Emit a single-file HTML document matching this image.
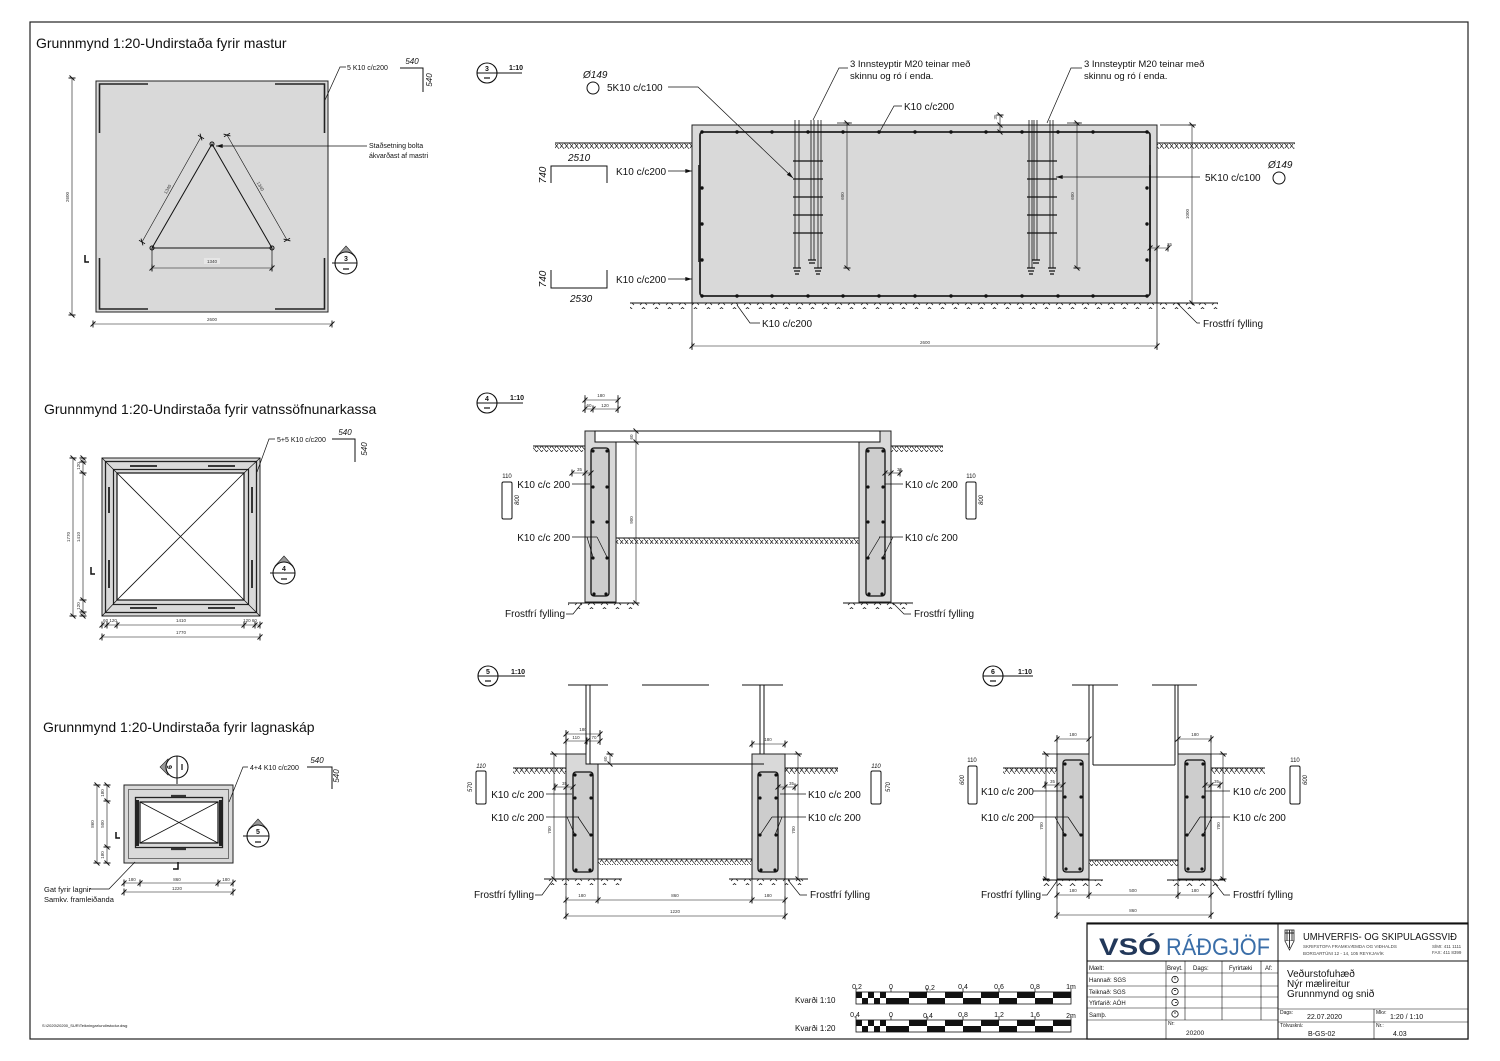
<!DOCTYPE html>
<html><head><meta charset="utf-8"><style>
html,body{margin:0;padding:0;background:#fff}
svg{display:block}
text{font-family:"Liberation Sans",Arial,sans-serif;fill:#111}
.l{stroke:#111;stroke-width:1;fill:none}
.t{stroke:#111;stroke-width:0.7;fill:none}
.d{stroke:#111;stroke-width:0.6;fill:none;marker-start:url(#tk);marker-mid:url(#tk);marker-end:url(#tk)}
.c{fill:#d9d9d9;stroke:#222;stroke-width:1}
.r{fill:#cdcdcd;stroke:#111;stroke-width:1.3}
.s{font-size:4.5px;fill:#333}
.m{font-size:10px}
</style></head><body>
<svg width="1500" height="1061" viewBox="0 0 1500 1061" xmlns="http://www.w3.org/2000/svg">
<defs>
<pattern id="gh" x="0" y="0" width="10" height="6" patternUnits="userSpaceOnUse"><path d="M0,0 L5,6 M5,0 L10,6 M8,0 L5,4 M3,0 L0,4" stroke="#222" stroke-width="0.7" fill="none"/></pattern>
<pattern id="gb" x="0" y="0" width="13" height="6" patternUnits="userSpaceOnUse"><path d="M3,5 L6.5,1.5 L10,5" stroke="#222" stroke-width="0.8" fill="none"/></pattern>
<marker id="ar" viewBox="0 0 10 6" refX="10" refY="3" markerWidth="8" markerHeight="4" orient="auto" markerUnits="userSpaceOnUse"><path d="M0,0 L10,3 L0,6z" fill="#111"/></marker>
<marker id="tk" viewBox="-5 -5 10 10" markerWidth="10" markerHeight="10" markerUnits="userSpaceOnUse" orient="auto"><path d="M-2.5,2.5 L2.5,-2.5 M0,-3.5 V3.5" stroke="#111" stroke-width="0.9" fill="none"/></marker>
</defs>
<rect width="1500" height="1061" fill="#fff"/>
<rect x="30" y="22" width="1438" height="1017" fill="none" stroke="#222" stroke-width="1.2"/>

<!-- ================= PLAN 1 ================= -->
<text x="36" y="48" font-size="14">Grunnmynd 1:20-Undirstaða fyrir mastur</text>
<rect x="96" y="81" width="232" height="231" class="c"/>
<path d="M148,84 H99.5 V133 M275,84 H324.5 V133 M99.5,258 V309 H148 M324.5,258 V309 H275" fill="none" stroke="#222" stroke-width="1.6"/>
<path d="M212,144 L152,248 L272,248 Z" class="l"/>
<circle cx="212" cy="144" r="2" fill="none" stroke="#111"/>
<circle cx="152" cy="248" r="2" fill="none" stroke="#111"/>
<circle cx="272" cy="248" r="2" fill="none" stroke="#111"/>
<path d="M142,242 L201,137" class="d"/>
<path d="M227,135 L287,240" class="d"/>
<text x="0" y="0" class="s" text-anchor="middle" transform="translate(169,190) rotate(-60.5)">1340</text>
<text x="0" y="0" class="s" text-anchor="middle" transform="translate(259,187) rotate(60.5)">1340</text>
<path d="M152,248 V271 M272,248 V271" class="t"/>
<path d="M152,268 H272" class="d"/>
<rect x="204" y="258" width="16" height="6" fill="#e6e6e6"/>
<text x="212" y="263" class="s" text-anchor="middle">1340</text>
<path d="M72,78 V315" class="d"/>
<text x="0" y="0" class="s" text-anchor="middle" transform="translate(69,197) rotate(-90)">2600</text>
<path d="M93,324 H332" class="d"/>
<text x="212" y="321" class="s" text-anchor="middle">2600</text>
<path d="M325,100 L340,67 H346" class="t"/>
<text x="347" y="70" font-size="7">5 K10 c/c200</text>
<path d="M400,68 H423 V92" class="l"/>
<text x="412" y="64" font-size="8" font-style="italic" text-anchor="middle">540</text>
<text x="0" y="0" font-size="8" font-style="italic" text-anchor="middle" transform="translate(432,80) rotate(-90)">540</text>
<text x="369" y="148" font-size="7">Staðsetning bolta</text>
<text x="369" y="158" font-size="7">ákvarðast af mastri</text>
<path d="M367,146 H216" class="t" marker-end="url(#ar)"/>
<path d="M337,256 L346,246 L355,256 Z" fill="#999" stroke="#222" stroke-width="0.6"/>
<circle cx="346" cy="263" r="11" fill="#fff" stroke="#111" stroke-width="1.1"/>
<path d="M332,263 H357" class="l"/>
<text x="346" y="261" font-size="7" font-weight="bold" text-anchor="middle">3</text>
<path d="M343,269 H349" stroke="#111" stroke-width="1.2"/>
<path d="M85,255 V262 H89" fill="none" stroke="#111" stroke-width="1.5"/>

<!-- ================= SECTION 3 ================= -->
<circle cx="487" cy="73" r="10" fill="#fff" stroke="#111" stroke-width="1.1"/>
<path d="M477,73 H522" class="l"/>
<text x="487" y="71" font-size="7" font-weight="bold" text-anchor="middle">3</text>
<path d="M484,78 H490" stroke="#111" stroke-width="1.2"/>
<text x="509" y="70" font-size="7" font-weight="bold">1:10</text>

<text x="583" y="78" font-size="10" font-style="italic">Ø149</text>
<circle cx="593" cy="88" r="6" fill="none" stroke="#111"/>
<text x="607" y="91" class="m">5K10 c/c100</text>

<path d="M555,143 H692 M1157,143 H1295" class="l"/>
<rect x="555" y="143" width="137" height="6" fill="url(#gh)"/>
<rect x="1157" y="143" width="138" height="6" fill="url(#gh)"/>
<rect x="692" y="125" width="465" height="178" class="c"/>
<rect x="700" y="132" width="450" height="164" rx="3" fill="none" stroke="#222" stroke-width="1.8"/>
<g fill="#111">
<circle cx="702" cy="132" r="1.7"/><circle cx="737" cy="132" r="1.7"/><circle cx="772" cy="132" r="1.7"/><circle cx="808" cy="132" r="1.7"/><circle cx="843" cy="132" r="1.7"/><circle cx="879" cy="132" r="1.7"/><circle cx="915" cy="132" r="1.7"/><circle cx="951" cy="132" r="1.7"/><circle cx="986" cy="132" r="1.7"/><circle cx="1022" cy="132" r="1.7"/><circle cx="1058" cy="132" r="1.7"/><circle cx="1093" cy="132" r="1.7"/><circle cx="1147" cy="132" r="1.7"/>
<circle cx="702" cy="296" r="1.7"/><circle cx="737" cy="296" r="1.7"/><circle cx="772" cy="296" r="1.7"/><circle cx="808" cy="296" r="1.7"/><circle cx="843" cy="296" r="1.7"/><circle cx="879" cy="296" r="1.7"/><circle cx="915" cy="296" r="1.7"/><circle cx="951" cy="296" r="1.7"/><circle cx="986" cy="296" r="1.7"/><circle cx="1022" cy="296" r="1.7"/><circle cx="1058" cy="296" r="1.7"/><circle cx="1093" cy="296" r="1.7"/><circle cx="1147" cy="296" r="1.7"/>
<circle cx="702" cy="188" r="1.7"/><circle cx="702" cy="224" r="1.7"/><circle cx="702" cy="260" r="1.7"/>
<circle cx="1147" cy="188" r="1.7"/><circle cx="1147" cy="224" r="1.7"/><circle cx="1147" cy="260" r="1.7"/>
</g>
<path d="M699,165 V262 M1150,165 V262" stroke="#222" stroke-width="1.6"/>
<path d="M630,303 H1218" class="l"/>
<rect x="630" y="303" width="588" height="6" fill="url(#gb)"/>

<!-- bolts left -->
<path d="M795,120 V268 M799,120 V268 M811,120 V260 M814,120 V260 M818,120 V268 M821,120 V268" stroke="#111" stroke-width="0.8"/>
<path d="M793,161 H823 M793,179 H823 M793,197 H823 M793,215 H823 M793,233 H823" stroke="#111" stroke-width="1.2"/>
<path d="M793,268 H801 M794,271 H800 M795,274 H799 M814,268 H822 M815,271 H821 M816,274 H820 M808,260 H816 M809,263 H815" stroke="#111" stroke-width="1.2"/>
<!-- bolts right -->
<path d="M1029,120 V268 M1032,120 V268 M1034,120 V260 M1037,120 V260 M1050,120 V268 M1053,120 V268" stroke="#111" stroke-width="0.8"/>
<path d="M1027,161 H1057 M1027,179 H1057 M1027,197 H1057 M1027,215 H1057 M1027,233 H1057" stroke="#111" stroke-width="1.2"/>
<path d="M1027,268 H1035 M1028,271 H1034 M1029,274 H1033 M1048,268 H1056 M1049,271 H1055 M1050,274 H1054 M1032,260 H1040 M1033,263 H1039" stroke="#111" stroke-width="1.2"/>

<path d="M668,87 H698 L793,178" class="t" marker-end="url(#ar)"/>

<path d="M847,123 V268" class="d"/><path d="M837,123 H852" class="t"/>
<text x="0" y="0" class="s" text-anchor="middle" transform="translate(844,196) rotate(-90)">600</text>
<path d="M1077,123 V268" class="d"/><path d="M1067,123 H1082" class="t"/>
<text x="0" y="0" class="s" text-anchor="middle" transform="translate(1074,196) rotate(-90)">600</text>
<path d="M1000,115 V125 V132" class="d"/>
<text x="0" y="0" class="s" text-anchor="middle" transform="translate(997,117) rotate(-90)">35</text>
<path d="M1160,125 H1196 M1157,303 H1196" class="t"/>
<path d="M1192,125 V303" class="d"/>
<text x="0" y="0" class="s" text-anchor="middle" transform="translate(1189,214) rotate(-90)">1000</text>
<path d="M1150,248 H1157 H1168" class="d"/>
<text x="1167" y="246" class="s">35</text>

<text x="1205" y="181" class="m">5K10 c/c100</text>
<path d="M1200,177 H1056" class="t" marker-end="url(#ar)"/>
<text x="1268" y="168" font-size="10" font-style="italic">Ø149</text>
<circle cx="1279" cy="178" r="6" fill="none" stroke="#111"/>

<text x="904" y="110" class="m">K10 c/c200</text>
<path d="M902,106 H894 L879,133" class="t"/>
<text x="850" y="67" font-size="9.5">3 Innsteyptir M20 teinar með</text>
<text x="850" y="79" font-size="9.5">skinnu og ró í enda.</text>
<path d="M848,68 H839 L813,120" class="t"/>
<text x="1084" y="67" font-size="9.5">3 Innsteyptir M20 teinar með</text>
<text x="1084" y="79" font-size="9.5">skinnu og ró í enda.</text>
<path d="M1082,68 H1071 L1047,123" class="t"/>

<text x="616" y="175" class="m">K10 c/c200</text>
<path d="M668,171 H692" class="t" marker-end="url(#ar)"/>
<text x="616" y="283" class="m">K10 c/c200</text>
<path d="M668,279 H692" class="t" marker-end="url(#ar)"/>

<text x="568" y="161" font-size="10" font-style="italic">2510</text>
<path d="M551,183 V166 H607 V183" class="l"/>
<text x="0" y="0" font-size="10" font-style="italic" text-anchor="middle" transform="translate(546,175) rotate(-90)">740</text>
<path d="M551,270 V288 H607 V270" class="l"/>
<text x="0" y="0" font-size="10" font-style="italic" text-anchor="middle" transform="translate(546,279) rotate(-90)">740</text>
<text x="570" y="302" font-size="10" font-style="italic">2530</text>

<path d="M692,303 V350 M1157,303 V350" class="t"/>
<path d="M692,346 H1157" class="d"/>
<text x="925" y="344" class="s" text-anchor="middle">2600</text>
<text x="762" y="327" class="m">K10 c/c200</text>
<path d="M760,323 H750 L737,305" class="t"/>
<text x="1203" y="327" class="m">Frostfrí fylling</text>
<path d="M1200,323 H1197 L1177,303" class="t"/>

<!-- ================= PLAN 2 ================= -->
<text x="44" y="414" font-size="14">Grunnmynd 1:20-Undirstaða fyrir vatnssöfnunarkassa</text>
<rect x="102" y="458" width="158" height="158" class="c"/>
<rect x="105.5" y="461.5" width="151" height="151" fill="none" stroke="#222" stroke-width="1.3"/>
<rect x="113.5" y="469.5" width="135" height="135" fill="none" stroke="#222" stroke-width="1.2"/>
<rect x="117" y="473" width="127" height="127" fill="#fff" stroke="#111" stroke-width="1.2"/>
<path d="M102,458 L117,473 M260,458 L244,473 M102,616 L117,600 M260,616 L244,600" class="t"/>
<path d="M117,473 L244,600 M244,473 L117,600" stroke="#111" stroke-width="0.8"/>
<path d="M130,466 H157 M208,466 H235 M130,608 H157 M208,608 H235 M109,487 V513 M109,560 V588 M252,487 V513 M252,560 V588" stroke="#222" stroke-width="1.8"/>
<path d="M73,458 V616" class="d"/>
<text x="0" y="0" class="s" text-anchor="middle" transform="translate(70,537) rotate(-90)">1770</text>
<path d="M83,458 V462 V473 V600 V612 V616" class="d"/>
<text x="0" y="0" class="s" text-anchor="middle" transform="translate(80,537) rotate(-90)">1410</text>
<text x="0" y="0" class="s" text-anchor="middle" transform="translate(80,466) rotate(-90)">120</text>
<text x="0" y="0" class="s" text-anchor="middle" transform="translate(80,606) rotate(-90)">120</text>
<path d="M102,625 H107 H117 H244 H255 H260" class="d"/>
<text x="110" y="622" class="s" text-anchor="middle">60 120</text>
<text x="181" y="622" class="s" text-anchor="middle">1410</text>
<text x="250" y="622" class="s" text-anchor="middle">120 60</text>
<path d="M102,637 H260" class="d"/>
<text x="181" y="634" class="s" text-anchor="middle">1770</text>
<path d="M275,439 H269 L257,472" class="t"/>
<text x="277" y="442" font-size="7">5+5 K10 c/c200</text>
<path d="M332,439 H355 V462" class="l"/>
<text x="345" y="435" font-size="8" font-style="italic" text-anchor="middle">540</text>
<text x="0" y="0" font-size="8" font-style="italic" text-anchor="middle" transform="translate(367,449) rotate(-90)">540</text>
<path d="M275,566 L284,556 L293,566 Z" fill="#999" stroke="#222" stroke-width="0.6"/>
<circle cx="284" cy="573" r="11" fill="#fff" stroke="#111" stroke-width="1.1"/>
<path d="M270,573 H295" class="l"/>
<text x="284" y="571" font-size="7" font-weight="bold" text-anchor="middle">4</text>
<path d="M281,579 H287" stroke="#111" stroke-width="1.2"/>
<path d="M91,567 V574 H95" fill="none" stroke="#111" stroke-width="1.5"/>

<!-- ================= PLAN 3 ================= -->
<text x="43" y="732" font-size="14">Grunnmynd 1:20-Undirstaða fyrir lagnaskáp</text>
<rect x="124" y="785" width="109" height="78" class="c"/>
<rect x="128.5" y="789.5" width="100" height="69" fill="none" stroke="#444" stroke-width="0.7"/>
<rect x="135.5" y="797.5" width="87" height="50" fill="#d9d9d9" stroke="#222" stroke-width="1.3"/>
<rect x="140" y="802" width="78" height="41" fill="#fff" stroke="#111" stroke-width="1.2"/>
<path d="M140,802 L218,843 M218,802 L140,843" stroke="#111" stroke-width="0.8"/>
<path d="M137.5,800 V846 M220.5,800 V846" stroke="#222" stroke-width="3"/>
<path d="M171,796 H186 M171,849 H186" stroke="#333" stroke-width="2.2"/>
<path d="M177,778 V784" class="l"/>
<path d="M168,759 L160,767 L168,775 Z" fill="#999" stroke="#222" stroke-width="0.6"/>
<circle cx="177" cy="767" r="11" fill="#fff" stroke="#111" stroke-width="1.1"/>
<path d="M177,756 V778" class="l"/>
<text x="0" y="0" font-size="7" font-weight="bold" text-anchor="middle" transform="translate(172,767) rotate(-90)">6</text>
<path d="M182,764 V770" stroke="#111" stroke-width="1.2"/>
<path d="M249,829 L258,819 L267,829 Z" fill="#999" stroke="#222" stroke-width="0.6"/>
<circle cx="258" cy="836" r="11" fill="#fff" stroke="#111" stroke-width="1.1"/>
<path d="M243,836 H269" class="l"/>
<text x="258" y="834" font-size="7" font-weight="bold" text-anchor="middle">5</text>
<path d="M255,842 H261" stroke="#111" stroke-width="1.2"/>
<path d="M116,832 V838 H120" fill="none" stroke="#111" stroke-width="1.5"/>
<path d="M178,862 V869 H173" fill="none" stroke="#111" stroke-width="1.5"/>
<path d="M97,785 V863" class="d"/>
<text x="0" y="0" class="s" text-anchor="middle" transform="translate(94,824) rotate(-90)">860</text>
<path d="M107,785 V801 V847 V863" class="d"/>
<text x="0" y="0" class="s" text-anchor="middle" transform="translate(104,793) rotate(-90)">180</text>
<text x="0" y="0" class="s" text-anchor="middle" transform="translate(104,824) rotate(-90)">500</text>
<text x="0" y="0" class="s" text-anchor="middle" transform="translate(104,855) rotate(-90)">180</text>
<path d="M124,883 H140 H218 H233" class="d"/>
<text x="132" y="881" class="s" text-anchor="middle">180</text>
<text x="177" y="881" class="s" text-anchor="middle">860</text>
<text x="226" y="881" class="s" text-anchor="middle">180</text>
<path d="M124,892 H233" class="d"/>
<text x="177" y="890" class="s" text-anchor="middle">1220</text>
<text x="44" y="892" font-size="7.5">Gat fyrir lagnir</text>
<text x="44" y="902" font-size="7.5">Samkv. framleiðanda</text>
<path d="M89,889 H109 L135,862" class="t"/>
<path d="M248,767 H243 L229,802" class="t"/>
<text x="250" y="770" font-size="7">4+4 K10 c/c200</text>
<path d="M307,767 H332 V789" class="l"/>
<text x="317" y="763" font-size="8" font-style="italic" text-anchor="middle">540</text>
<text x="0" y="0" font-size="8" font-style="italic" text-anchor="middle" transform="translate(339,776) rotate(-90)">540</text>

<!-- ================= SECTION 4 ================= -->
<circle cx="487" cy="403" r="10" fill="#fff" stroke="#111" stroke-width="1.1"/>
<path d="M477,403 H523" class="l"/>
<text x="487" y="401" font-size="7" font-weight="bold" text-anchor="middle">4</text>
<path d="M484,408 H490" stroke="#111" stroke-width="1.2"/>
<text x="510" y="400" font-size="7" font-weight="bold">1:10</text>
<path d="M585,400 H618" class="d"/>
<text x="601" y="397" class="s" text-anchor="middle">180</text>
<path d="M585,409 H593 H618" class="d"/>
<text x="589" y="407" class="s" text-anchor="middle">60</text>
<text x="605" y="407" class="s" text-anchor="middle">120</text>
<path d="M585,395 V413 M618,395 V413" class="t"/>

<path d="M533,446 H585 M891,446 H943" class="l"/>
<rect x="533" y="446" width="52" height="6" fill="url(#gh)"/>
<rect x="891" y="446" width="52" height="6" fill="url(#gh)"/>
<path d="M616,538 H859" class="l"/>
<rect x="616" y="538" width="243" height="6" fill="url(#gh)"/>
<path d="M585,431 H595 V442 H616 V602 H585 Z" class="c"/>
<path d="M880,431 H891 V602 H859 V442 H880 Z" class="c"/>
<rect x="595" y="431" width="285" height="11" fill="#fff" stroke="#111" stroke-width="1"/>
<rect x="591" y="448" width="18" height="148" rx="3" class="r"/>
<rect x="866" y="448" width="19" height="148" rx="3" class="r"/>
<g fill="#111">
<circle cx="593" cy="451" r="1.6"/><circle cx="607" cy="451" r="1.6"/><circle cx="593" cy="487" r="1.6"/><circle cx="607" cy="487" r="1.6"/><circle cx="593" cy="522" r="1.6"/><circle cx="607" cy="522" r="1.6"/><circle cx="593" cy="558" r="1.6"/><circle cx="607" cy="558" r="1.6"/><circle cx="594" cy="594" r="1.6"/><circle cx="606" cy="594" r="1.6"/>
<circle cx="868" cy="451" r="1.6"/><circle cx="883" cy="451" r="1.6"/><circle cx="868" cy="487" r="1.6"/><circle cx="883" cy="487" r="1.6"/><circle cx="868" cy="522" r="1.6"/><circle cx="883" cy="522" r="1.6"/><circle cx="868" cy="558" r="1.6"/><circle cx="883" cy="558" r="1.6"/><circle cx="869" cy="594" r="1.6"/><circle cx="882" cy="594" r="1.6"/>
</g>
<path d="M568,603 H638 M843,603 H913" class="l"/>
<rect x="568" y="603" width="70" height="6" fill="url(#gb)"/>
<rect x="843" y="603" width="70" height="6" fill="url(#gb)"/>
<path d="M636,431 V442 V603" class="d"/>
<text x="0" y="0" class="s" text-anchor="middle" transform="translate(633,520) rotate(-90)">900</text>
<text x="0" y="0" class="s" text-anchor="middle" transform="translate(633,437) rotate(-90)">60</text>
<path d="M572,473 H585 H591" class="d"/>
<text x="577" y="471" class="s">35</text>
<path d="M885,473 H891 H900" class="d"/>
<text x="897" y="471" class="s">35</text>
<text x="570" y="488" class="m" text-anchor="end">K10 c/c 200</text>
<path d="M572,484 H590" class="t"/>
<text x="570" y="541" class="m" text-anchor="end">K10 c/c 200</text>
<path d="M572,537 H597 M587,537 L593,557 M597,537 L607,557" class="t"/>
<text x="905" y="488" class="m">K10 c/c 200</text>
<path d="M903,484 H885" class="t"/>
<text x="905" y="541" class="m">K10 c/c 200</text>
<path d="M903,537 H879 M893,537 L883,557 M880,537 L868,557" class="t"/>
<rect x="502" y="482" width="10" height="37" rx="1.5" fill="none" stroke="#111"/>
<text x="507" y="478" font-size="6" text-anchor="middle">110</text>
<text x="0" y="0" font-size="6" font-style="italic" text-anchor="middle" transform="translate(519,500) rotate(-90)">800</text>
<rect x="966" y="482" width="10" height="37" rx="1.5" fill="none" stroke="#111"/>
<text x="971" y="478" font-size="6" text-anchor="middle">110</text>
<text x="0" y="0" font-size="6" font-style="italic" text-anchor="middle" transform="translate(983,500) rotate(-90)">800</text>
<text x="505" y="617" class="m">Frostfrí fylling</text>
<path d="M566,614 H573 L582,603" class="t"/>
<text x="914" y="617" class="m">Frostfrí fylling</text>
<path d="M911,614 H904 L893,603" class="t"/>

<!-- ================= SECTION 5 ================= -->
<circle cx="488" cy="676" r="10" fill="#fff" stroke="#111" stroke-width="1.1"/>
<path d="M478,676 H525" class="l"/>
<text x="488" y="674" font-size="7" font-weight="bold" text-anchor="middle">5</text>
<path d="M485,681 H491" stroke="#111" stroke-width="1.2"/>
<text x="511" y="674" font-size="7" font-weight="bold">1:10</text>
<path d="M568,685 H608 M642,685 H709 M742,685 H783" class="l"/>
<path d="M586,685 V764 M590,685 V764 M760,685 V754 M764,685 V764" class="l"/>
<path d="M513,768 H566 M785,768 H838" class="l"/>
<rect x="513" y="768" width="53" height="6" fill="url(#gh)"/>
<rect x="785" y="768" width="53" height="6" fill="url(#gh)"/>
<path d="M598,859 H752" class="l"/>
<rect x="598" y="859" width="154" height="6" fill="url(#gh)"/>
<path d="M566,754 H586 V764 H598 V879 H566 Z" class="c"/>
<path d="M752,754 H785 V879 H752 Z" class="c"/>
<path d="M586,764 H764" class="l"/>
<rect x="573" y="772" width="20" height="100" rx="3" class="r"/>
<rect x="758" y="772" width="20" height="100" rx="3" class="r"/>
<g fill="#111">
<circle cx="575" cy="775" r="1.6"/><circle cx="591" cy="775" r="1.6"/><circle cx="575" cy="798" r="1.6"/><circle cx="591" cy="798" r="1.6"/><circle cx="575" cy="835" r="1.6"/><circle cx="591" cy="835" r="1.6"/><circle cx="576" cy="870" r="1.6"/><circle cx="590" cy="870" r="1.6"/>
<circle cx="760" cy="775" r="1.6"/><circle cx="776" cy="775" r="1.6"/><circle cx="760" cy="798" r="1.6"/><circle cx="776" cy="798" r="1.6"/><circle cx="760" cy="835" r="1.6"/><circle cx="776" cy="835" r="1.6"/><circle cx="761" cy="870" r="1.6"/><circle cx="775" cy="870" r="1.6"/>
</g>
<path d="M544,879 H622 M729,879 H808" class="l"/>
<rect x="544" y="879" width="78" height="6" fill="url(#gb)"/>
<rect x="729" y="879" width="79" height="6" fill="url(#gb)"/>
<path d="M550,754 H566 M785,754 H802" class="t"/>
<path d="M554,754 V879" class="d"/>
<text x="0" y="0" class="s" text-anchor="middle" transform="translate(551,830) rotate(-90)">700</text>
<path d="M798,754 V879" class="d"/>
<text x="0" y="0" class="s" text-anchor="middle" transform="translate(795,830) rotate(-90)">700</text>
<path d="M566,734 H600" class="d"/>
<text x="583" y="731" class="s" text-anchor="middle">180</text>
<path d="M566,741 H587 H600" class="d"/>
<text x="576" y="739" class="s" text-anchor="middle">110</text>
<text x="594" y="739" class="s" text-anchor="middle">70</text>
<path d="M566,730 V754 M600,730 V745" class="t"/>
<path d="M610,754 V764" class="d"/>
<text x="0" y="0" class="s" text-anchor="middle" transform="translate(607,759) rotate(-90)">60</text>
<path d="M752,744 H785" class="d"/>
<text x="768" y="741" class="s" text-anchor="middle">180</text>
<path d="M566,879 V919 M598,879 V903 M752,879 V903 M785,879 V919" class="t"/>
<path d="M566,900 H598 H752 H785" class="d"/>
<text x="582" y="897" class="s" text-anchor="middle">180</text>
<text x="675" y="897" class="s" text-anchor="middle">860</text>
<text x="768" y="897" class="s" text-anchor="middle">180</text>
<path d="M566,916 H785" class="d"/>
<text x="675" y="913" class="s" text-anchor="middle">1220</text>
<text x="544" y="798" class="m" text-anchor="end">K10 c/c 200</text>
<path d="M546,794 H572" class="t"/>
<text x="544" y="821" class="m" text-anchor="end">K10 c/c 200</text>
<path d="M546,817 H579 M567,817 L575,835 M578,817 L590,835" class="t"/>
<text x="808" y="798" class="m">K10 c/c 200</text>
<path d="M806,794 H780" class="t"/>
<text x="808" y="821" class="m">K10 c/c 200</text>
<path d="M806,817 H772 M782,817 L775,835 M772,817 L760,835" class="t"/>
<path d="M555,787 H566 H573" class="d"/>
<text x="562" y="785" class="s">35</text>
<path d="M778,787 H785 H795" class="d"/>
<text x="789" y="785" class="s">35</text>
<rect x="476" y="771" width="10" height="33" rx="1.5" fill="none" stroke="#111"/>
<text x="481" y="768" font-size="6" font-style="italic" text-anchor="middle">110</text>
<text x="0" y="0" font-size="6" font-style="italic" text-anchor="middle" transform="translate(472,787) rotate(-90)">570</text>
<rect x="871" y="771" width="10" height="33" rx="1.5" fill="none" stroke="#111"/>
<text x="876" y="768" font-size="6" font-style="italic" text-anchor="middle">110</text>
<text x="0" y="0" font-size="6" font-style="italic" text-anchor="middle" transform="translate(890,787) rotate(-90)">570</text>
<text x="474" y="898" class="m">Frostfrí fylling</text>
<path d="M535,895 H542 L553,880" class="t"/>
<text x="810" y="898" class="m">Frostfrí fylling</text>
<path d="M807,895 H800 L788,880" class="t"/>

<!-- ================= SECTION 6 ================= -->
<circle cx="993" cy="676" r="10" fill="#fff" stroke="#111" stroke-width="1.1"/>
<path d="M983,676 H1033" class="l"/>
<text x="993" y="674" font-size="7" font-weight="bold" text-anchor="middle">6</text>
<path d="M990,681 H996" stroke="#111" stroke-width="1.2"/>
<text x="1018" y="674" font-size="7" font-weight="bold">1:10</text>
<path d="M1072,685 H1118 M1152,685 H1197" class="l"/>
<path d="M1089,685 V765 M1093,685 V765 M1175,685 V765 M1178,685 V765 M1093,765 H1175" class="l"/>
<path d="M1003,768 H1057 M1211,768 H1265" class="l"/>
<rect x="1003" y="768" width="54" height="6" fill="url(#gh)"/>
<rect x="1211" y="768" width="54" height="6" fill="url(#gh)"/>
<path d="M1089,860 H1178" class="l"/>
<rect x="1089" y="860" width="89" height="6" fill="url(#gh)"/>
<rect x="1057" y="754" width="32" height="125" class="c"/>
<rect x="1178" y="754" width="33" height="125" class="c"/>
<rect x="1063" y="760" width="20" height="112" rx="3" class="r"/>
<rect x="1185" y="760" width="20" height="112" rx="3" class="r"/>
<g fill="#111">
<circle cx="1065" cy="764" r="1.6"/><circle cx="1081" cy="764" r="1.6"/><circle cx="1065" cy="797" r="1.6"/><circle cx="1081" cy="797" r="1.6"/><circle cx="1065" cy="835" r="1.6"/><circle cx="1081" cy="835" r="1.6"/><circle cx="1066" cy="869" r="1.6"/><circle cx="1080" cy="869" r="1.6"/>
<circle cx="1187" cy="764" r="1.6"/><circle cx="1203" cy="764" r="1.6"/><circle cx="1187" cy="797" r="1.6"/><circle cx="1203" cy="797" r="1.6"/><circle cx="1187" cy="835" r="1.6"/><circle cx="1203" cy="835" r="1.6"/><circle cx="1188" cy="869" r="1.6"/><circle cx="1202" cy="869" r="1.6"/>
</g>
<path d="M1043,880 H1103 M1167,880 H1225" class="l"/>
<rect x="1043" y="880" width="60" height="6" fill="url(#gb)"/>
<rect x="1167" y="880" width="58" height="6" fill="url(#gb)"/>
<path d="M1042,754 H1057 M1211,754 H1227" class="t"/>
<path d="M1046,754 V879" class="d"/>
<text x="0" y="0" class="s" text-anchor="middle" transform="translate(1043,826) rotate(-90)">700</text>
<path d="M1223,754 V879" class="d"/>
<text x="0" y="0" class="s" text-anchor="middle" transform="translate(1220,826) rotate(-90)">700</text>
<path d="M1057,739 H1089 M1178,739 H1211" class="d"/>
<text x="1073" y="736" class="s" text-anchor="middle">180</text>
<text x="1195" y="736" class="s" text-anchor="middle">180</text>
<path d="M1057,735 V754 M1211,735 V754" class="t"/>
<path d="M1057,879 V919 M1089,879 V899 M1178,879 V899 M1211,879 V919" class="t"/>
<path d="M1057,895 H1089 H1178 H1211" class="d"/>
<text x="1073" y="892" class="s" text-anchor="middle">180</text>
<text x="1133" y="892" class="s" text-anchor="middle">500</text>
<text x="1195" y="892" class="s" text-anchor="middle">180</text>
<path d="M1057,915 H1211" class="d"/>
<text x="1133" y="912" class="s" text-anchor="middle">860</text>
<text x="981" y="795" class="m">K10 c/c 200</text>
<path d="M1033,791 H1062" class="t"/>
<text x="981" y="821" class="m">K10 c/c 200</text>
<path d="M1033,817 H1068 M1055,817 L1065,835 M1068,817 L1080,835" class="t"/>
<text x="1233" y="795" class="m">K10 c/c 200</text>
<path d="M1230,791 H1205" class="t"/>
<text x="1233" y="821" class="m">K10 c/c 200</text>
<path d="M1230,817 H1200 M1212,817 L1203,835 M1200,817 L1188,835" class="t"/>
<path d="M1045,785 H1057 H1063" class="d"/>
<text x="1050" y="783" class="s">35</text>
<path d="M1205,785 H1211 H1220" class="d"/>
<text x="1214" y="783" class="s">35</text>
<rect x="968" y="766" width="9" height="38" rx="1.5" fill="none" stroke="#111"/>
<text x="972" y="762" font-size="6" text-anchor="middle">110</text>
<text x="0" y="0" font-size="6" font-style="italic" text-anchor="middle" transform="translate(964,780) rotate(-90)">600</text>
<rect x="1290" y="766" width="10" height="38" rx="1.5" fill="none" stroke="#111"/>
<text x="1295" y="762" font-size="6" text-anchor="middle">110</text>
<text x="0" y="0" font-size="6" font-style="italic" text-anchor="middle" transform="translate(1307,780) rotate(-90)">600</text>
<text x="981" y="898" class="m">Frostfrí fylling</text>
<path d="M1042,895 H1047 L1057,881" class="t"/>
<text x="1233" y="898" class="m">Frostfrí fylling</text>
<path d="M1230,895 H1224 L1213,881" class="t"/>

<!-- ================= SCALE BARS ================= -->
<text x="795" y="1003" font-size="8">Kvarði 1:10</text>
<text x="795" y="1031" font-size="8">Kvarði 1:20</text>
<g>
<rect x="856" y="992" width="215" height="12" fill="#fff" stroke="#111" stroke-width="0.8"/>
<path d="M856,992 V988 M891,992 V988 M927,992 V988 M963,992 V988 M999,992 V988 M1035,992 V988 M1071,992 V988" class="t"/>
<g fill="#111">
<rect x="856" y="992" width="6" height="6"/><rect x="868" y="992" width="6" height="6"/><rect x="880" y="992" width="6" height="6"/>
<rect x="862" y="998" width="6" height="6"/><rect x="874" y="998" width="6" height="6"/><rect x="886" y="998" width="5" height="6"/>
<rect x="909" y="992" width="18" height="6"/><rect x="945" y="992" width="18" height="6"/><rect x="981" y="992" width="18" height="6"/><rect x="1017" y="992" width="18" height="6"/><rect x="1053" y="992" width="18" height="6"/>
<rect x="891" y="998" width="18" height="6"/><rect x="927" y="998" width="18" height="6"/><rect x="963" y="998" width="18" height="6"/><rect x="999" y="998" width="18" height="6"/><rect x="1035" y="998" width="18" height="6"/>
</g>
<g font-size="7" text-anchor="middle">
<text x="857" y="989">0,2</text><text x="891" y="989">0</text><text x="930" y="990">0,2</text><text x="963" y="989">0,4</text><text x="999" y="989">0,6</text><text x="1035" y="989">0,8</text><text x="1071" y="989">1m</text>
</g>
<rect x="856" y="1020" width="215" height="12" fill="#fff" stroke="#111" stroke-width="0.8"/>
<path d="M856,1020 V1016 M891,1020 V1016 M927,1020 V1016 M963,1020 V1016 M999,1020 V1016 M1035,1020 V1016 M1071,1020 V1016" class="t"/>
<g fill="#111">
<rect x="856" y="1020" width="6" height="6"/><rect x="868" y="1020" width="6" height="6"/><rect x="880" y="1020" width="6" height="6"/>
<rect x="862" y="1026" width="6" height="6"/><rect x="874" y="1026" width="6" height="6"/><rect x="886" y="1026" width="5" height="6"/>
<rect x="909" y="1020" width="18" height="6"/><rect x="945" y="1020" width="18" height="6"/><rect x="981" y="1020" width="18" height="6"/><rect x="1017" y="1020" width="18" height="6"/><rect x="1053" y="1020" width="18" height="6"/>
<rect x="891" y="1026" width="18" height="6"/><rect x="927" y="1026" width="18" height="6"/><rect x="963" y="1026" width="18" height="6"/><rect x="999" y="1026" width="18" height="6"/><rect x="1035" y="1026" width="18" height="6"/>
</g>
<g font-size="7" text-anchor="middle">
<text x="855" y="1017">0,4</text><text x="891" y="1017">0</text><text x="928" y="1018">0,4</text><text x="963" y="1017">0,8</text><text x="999" y="1017">1,2</text><text x="1035" y="1017">1,6</text><text x="1071" y="1018">2m</text>
</g>
</g>
<text x="42" y="1027" font-size="4" fill="#444">S:\2020\20200_SUR\Teikningar\undirstodur.dwg</text>

<!-- ================= TITLE BLOCK ================= -->
<rect x="1087" y="923" width="381" height="116" fill="#fff" stroke="#111" stroke-width="1.2"/>
<path d="M1087,923.5 H1468" stroke="#111" stroke-width="2"/>
<path d="M1278,923 V1039 M1087,961 H1468" stroke="#111" stroke-width="1"/>
<path d="M1087,973 H1278 M1087,986 H1278 M1087,997 H1278 M1087,1008 H1278 M1087,1020 H1278" stroke="#111" stroke-width="0.6"/>
<path d="M1166,961 V1039 M1185,961 V1020 M1222,961 V1020 M1261,961 V1020" stroke="#111" stroke-width="0.6"/>
<path d="M1278,1009 H1468 M1278,1022 H1468 M1374,1009 V1039" stroke="#111" stroke-width="0.6"/>
<text x="1099" y="955" font-size="24" font-weight="bold" style="fill:#22385a" textLength="62" lengthAdjust="spacingAndGlyphs">VSÓ</text>
<text x="1166" y="955" font-size="24" style="fill:#3a6ea8" textLength="104" lengthAdjust="spacingAndGlyphs">RÁÐGJÖF</text>
<rect x="1285" y="930" width="9" height="11" fill="#fff" stroke="#222" stroke-width="0.8"/>
<path d="M1285,941 L1289.5,950 L1294,941" fill="#fff" stroke="#222" stroke-width="0.8"/>
<path d="M1285,933 H1294 M1287,930 V941 M1289.5,930 V948 M1292,930 V941" stroke="#222" stroke-width="0.9"/>
<text x="1303" y="940" font-size="10" textLength="154" lengthAdjust="spacingAndGlyphs">UMHVERFIS- OG SKIPULAGSSVIÐ</text>
<text x="1303" y="948" font-size="4.5" style="fill:#444">SKRIFSTOFA FRAMKVÆMDA OG VIÐHALDS</text>
<text x="1303" y="955" font-size="4.5" style="fill:#444">BORGARTÚNI 12 - 14, 105 REYKJAVÍK</text>
<text x="1432" y="948" font-size="4.5" style="fill:#444">SÍMI: 411 1111</text>
<text x="1432" y="954" font-size="4.5" style="fill:#444">FAX: 411 8399</text>
<g font-size="6">
<text x="1089" y="970">Mælt:</text>
<text x="1167" y="970">Breyt.</text>
<text x="1193" y="970">Dags:</text>
<text x="1229" y="970">Fyrirtæki</text>
<text x="1265" y="970">Af:</text>
<text x="1089" y="982">Hannað: SGS</text>
<text x="1089" y="994">Teiknað: SGS</text>
<text x="1089" y="1005">Yfirfarið: AÓH</text>
<text x="1089" y="1017">Samþ.</text>
</g>
<g fill="none" stroke="#111" stroke-width="0.8">
<circle cx="1175" cy="979.5" r="3.2"/><circle cx="1175" cy="991.5" r="3.2"/><circle cx="1175" cy="1002.5" r="3.2"/><circle cx="1175" cy="1014" r="3.2"/>
</g>
<path d="M1175,979.5 V977.5 M1174,990.5 H1176 M1175,1002.5 H1177 M1174,1013 H1176" stroke="#111" stroke-width="0.8"/>
<text x="1168" y="1025" font-size="5">Nr:</text>
<text x="1186" y="1035" font-size="6.5">20200</text>
<text x="1287" y="977" font-size="10">Veðurstofuhæð</text>
<text x="1287" y="987" font-size="10">Nýr mælireitur</text>
<text x="1287" y="997" font-size="10">Grunnmynd og snið</text>
<text x="1280" y="1014" font-size="5">Dags:</text>
<text x="1307" y="1019" font-size="7">22.07.2020</text>
<text x="1376" y="1014" font-size="5">Mkv:</text>
<text x="1390" y="1019" font-size="7">1:20 / 1:10</text>
<text x="1280" y="1027" font-size="5">Tölvuskrá:</text>
<text x="1308" y="1036" font-size="7">B-GS-02</text>
<text x="1376" y="1027" font-size="5">Nr.:</text>
<text x="1393" y="1036" font-size="7">4.03</text>
</svg>
</body></html>
